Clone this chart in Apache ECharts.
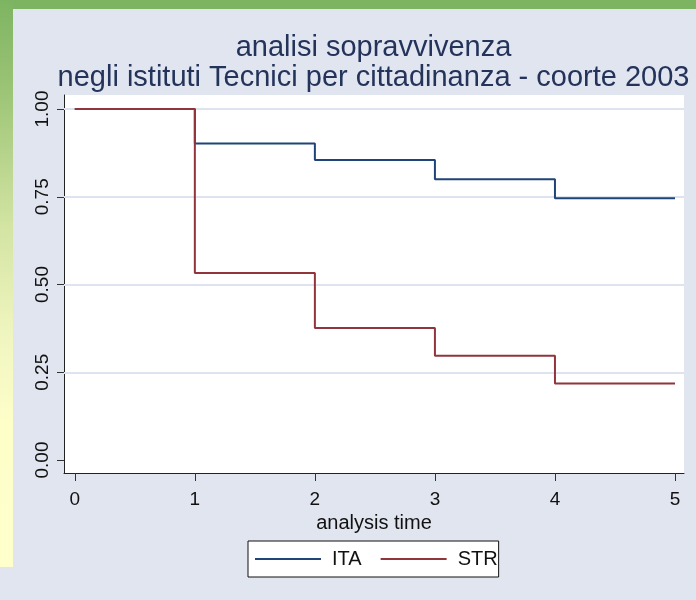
<!DOCTYPE html>
<html>
<head>
<meta charset="utf-8">
<script src="https://cdn.jsdelivr.net/npm/echarts@6/dist/echarts.min.js"></script>
<style>
html,body{margin:0;padding:0;background:#E1E5F0;}
#chart{width:696px;height:600px;}
</style>
</head>
<body>
<div id="chart"></div>
<script>
// ---- data ----
var times = [0, 1, 2, 3, 4, 5];
var itaSurv = [1.00, 0.902, 0.855, 0.800, 0.746, 0.746];
var strSurv = [1.00, 0.533, 0.376, 0.297, 0.218, 0.218];
var seriesNames = ['ITA', 'STR'];
var xTicks = [0, 1, 2, 3, 4, 5];
var yTicks = [0, 0.25, 0.5, 0.75, 1];
var yGridLines = [0.25, 0.5, 0.75, 1];
var titleLines = ['analisi sopravvivenza', 'negli istituti Tecnici per cittadinanza - coorte 2003'];
var xAxisTitle = 'analysis time';

function pairs(xs, ys) { return xs.map(function (x, i) { return [x, ys[i]]; }); }

var FONT = 'Liberation Sans, Arial, sans-serif';
var chart = echarts.init(document.getElementById('chart'), null, {renderer: 'canvas'});

var option = {
  backgroundColor: '#E1E5F0',
  animation: false,
  graphic: [
    {type: 'rect', z: -10, silent: true, shape: {x: 0, y: 0, width: 696, height: 9}, style: {fill: '#7DB462'}},
    {type: 'rect', z: -10, silent: true, shape: {x: 0, y: 0, width: 13, height: 567},
      style: {fill: new echarts.graphic.LinearGradient(0, 0, 0, 1, [
        {offset: 0, color: '#7DB462'},
        {offset: 0.15, color: '#9AC374'},
        {offset: 0.4, color: '#D3E4A3'},
        {offset: 0.6, color: '#F1F6C0'},
        {offset: 0.75, color: '#FEFEC9'},
        {offset: 1, color: '#FFFFCC'}
      ])}}
  ],
  title: {
    text: titleLines.join('\n'),
    left: 373.5,
    top: 33,
    padding: 0,
    textAlign: 'center',
    textStyle: {fontFamily: FONT, fontSize: 29, fontWeight: 'normal', color: '#24335a', lineHeight: 30}
  },
  grid: {left: 64, right: 12, top: 95, bottom: 127, show: true, backgroundColor: '#ffffff', borderWidth: 0, containLabel: false},
  xAxis: {
    type: 'value',
    min: -0.09, max: 5.075,
    name: xAxisTitle,
    nameLocation: 'middle',
    nameGap: 35,
    nameTextStyle: {fontFamily: FONT, fontSize: 20, color: '#111'},
    axisLine: {show: true, onZero: false, lineStyle: {color: '#222', width: 1}},
    axisTick: {show: true, length: 8, lineStyle: {color: '#333', width: 1}, customValues: xTicks},
    axisLabel: {show: true, margin: 17, fontFamily: FONT, fontSize: 19, color: '#111', customValues: xTicks,
      formatter: function (v) { return String(v); }},
    splitLine: {show: false}
  },
  yAxis: {
    type: 'value',
    min: -0.037, max: 1.040,
    axisLine: {show: true, onZero: false, lineStyle: {color: '#222', width: 1}},
    axisTick: {show: true, length: 7, lineStyle: {color: '#333', width: 1}, customValues: yTicks},
    axisLabel: {show: true, rotate: 90, margin: 12, fontFamily: FONT, fontSize: 19, color: '#111', customValues: yTicks,
      formatter: function (v) { return v.toFixed(2); }},
    splitLine: {show: false}
  },
  legend: {
    data: seriesNames,
    left: 248, top: 541,
    orient: 'horizontal',
    icon: 'rect',
    itemWidth: 66, itemHeight: 2,
    itemGap: 19,
    padding: [8, 1, 8, 7],
    backgroundColor: '#ffffff',
    borderColor: '#111',
    borderWidth: 1,
    borderRadius: 0,
    textStyle: {fontFamily: FONT, fontSize: 20, color: '#111', padding: [0, 0, 0, 6]}
  },
  series: [
    {
      name: 'grid', type: 'line', data: [], z: 1, silent: true,
      markLine: {
        silent: true, z: 1, symbol: ['none', 'none'], label: {show: false},
        lineStyle: {color: '#DFE3EF', width: 2, type: 'solid'},
        data: yGridLines.map(function (v) { return {yAxis: v}; })
      }
    },
    {
      name: seriesNames[0], type: 'line', step: 'end', z: 3,
      data: pairs(times, itaSurv),
      showSymbol: false, symbol: 'none',
      lineStyle: {color: '#1F4478', width: 2},
      itemStyle: {color: '#1F4478'}
    },
    {
      name: seriesNames[1], type: 'line', step: 'end', z: 4,
      data: pairs(times, strSurv),
      showSymbol: false, symbol: 'none',
      lineStyle: {color: '#90353B', width: 2},
      itemStyle: {color: '#90353B'}
    }
  ]
};
chart.setOption(option);
</script>
</body>
</html>
